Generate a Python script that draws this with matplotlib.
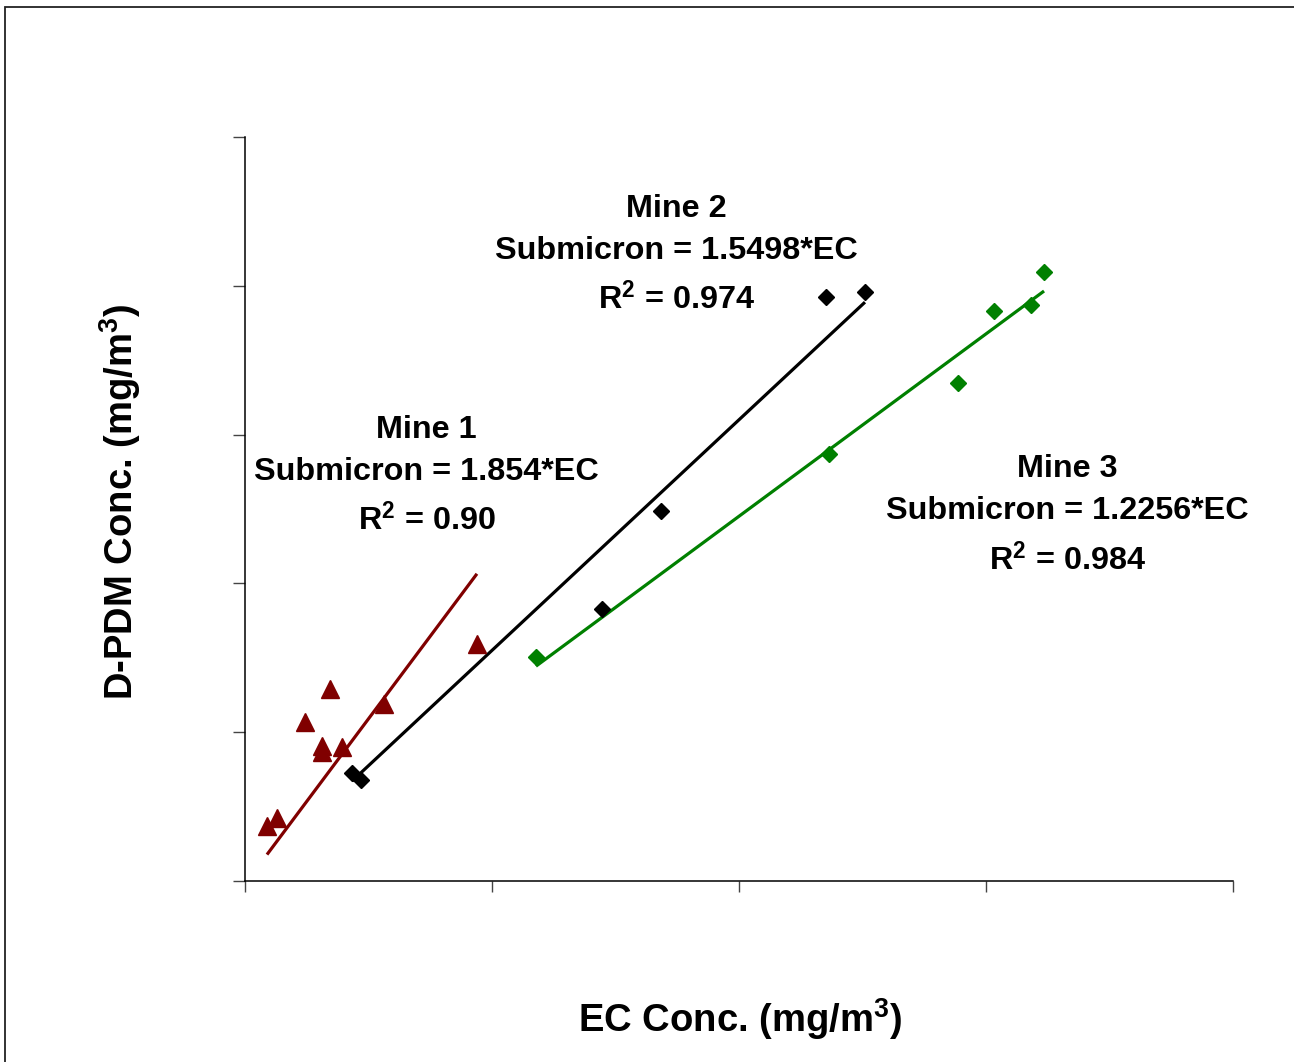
import matplotlib
matplotlib.use("Agg")
import matplotlib.pyplot as plt
import numpy as np
from matplotlib.patches import Rectangle

plt.rcParams['font.family'] = ['Liberation Sans', 'DejaVu Sans']
plt.rcParams['font.weight'] = 'bold'
plt.rcParams['mathtext.fontset'] = 'custom'
plt.rcParams['mathtext.rm'] = 'Liberation Sans:bold'
plt.rcParams['mathtext.bf'] = 'Liberation Sans:bold'
plt.rcParams['mathtext.it'] = 'Liberation Sans:bold'

# ---- data (EC vs D-PDM concentration, mg/m3) ----
mine1_ec = [0.0089, 0.0130, 0.0243, 0.0344, 0.0312, 0.0312, 0.0393, 0.0563, 0.0939]
mine1_pdm = [0.0370, 0.0423, 0.1069, 0.1290, 0.0907, 0.0867, 0.0901, 0.1190, 0.1593]
mine2_ec = [0.0433, 0.0470, 0.1445, 0.1684, 0.2352, 0.2510]
mine2_pdm = [0.0726, 0.0679, 0.1828, 0.2487, 0.3925, 0.3958]
mine3_ec = [0.1178, 0.2364, 0.2887, 0.3032, 0.3182, 0.3235]
mine3_pdm = [0.1505, 0.2870, 0.3347, 0.3831, 0.3871, 0.4093]

# trend line coefficients (slope, intercept) as drawn
fit_slope = [2.22, 1.5498, 1.2256]
fit_intercept = [-0.002, 0.0, 0.0]

mine_names = ["Mine 1", "Mine 2", "Mine 3"]
eq_labels = ["Submicron = 1.854*EC", "Submicron = 1.5498*EC", "Submicron = 1.2256*EC"]
r2_labels = ["0.90", "0.974", "0.984"]

x_ticks = [0.0, 0.1, 0.2, 0.3, 0.4]
y_ticks = [0.0, 0.1, 0.2, 0.3, 0.4, 0.5]

W, H = 1294, 1062
fig = plt.figure(figsize=(W / 100, H / 100), dpi=100)
fig.patch.set_facecolor('white')

# outer frame (chart area border)
fig.patches.append(Rectangle((5 / W, -0.1), 1.2, 1.1 - 7 / H, transform=fig.transFigure,
                             fill=False, edgecolor='#222222', linewidth=1.3))

ax = fig.add_axes([245 / W, 1 - 881 / H, (1233 - 245) / W, (881 - 137) / H])
ax.set_xlim(0, 0.4)
ax.set_ylim(0, 0.5)
ax.set_xticks(x_ticks)
ax.set_yticks(y_ticks)
ax.set_xticklabels([])
ax.set_yticklabels([])
for s in ['top', 'right']:
    ax.spines[s].set_visible(False)
for s in ['left', 'bottom']:
    ax.spines[s].set_linewidth(1.1)
ax.tick_params(axis='x', direction='out', length=8, width=1, color='#444444')
ax.tick_params(axis='y', direction='out', length=9, width=1, color='#444444')

series = [
    (mine1_ec, mine1_pdm, '#800000', '^', 12.5),
    (mine2_ec, mine2_pdm, '#000000', 'D', 8),
    (mine3_ec, mine3_pdm, '#008000', 'D', 8),
]
for i, (xs, ys, col, mk, ms) in enumerate(series):
    xs = np.array(xs)
    xl = np.array([xs.min(), xs.max()])
    ax.plot(xl, fit_slope[i] * xl + fit_intercept[i], color=col, lw=2.3, zorder=2,
            solid_capstyle='butt')
    ax.plot(xs, ys, linestyle='none', marker=mk, ms=ms, color=col, mec=col, zorder=3)

# annotations
text_pos = [(426.5, [438, 480, 530]), (676.5, [217, 259, 309]), (1067.5, [477, 519, 570])]
fs = 23.3
sup = r'$^{\scriptstyle 2}$'
for i, (cx, bls) in enumerate(text_pos):
    fig.text(cx / W, 1 - bls[0] / H, mine_names[i], ha='center', va='baseline', fontsize=fs,
             fontweight='bold')
    fig.text(cx / W, 1 - bls[1] / H, eq_labels[i], ha='center', va='baseline', fontsize=fs,
             fontweight='bold')
    fig.text(cx / W, 1 - bls[2] / H, r'R$^{2}$ = ' + r2_labels[i], ha='center', va='baseline',
             fontsize=fs, fontweight='bold')

fig.text(740 / W, 1 - 1032 / H, r'EC Conc. (mg/m$^{3}$)', ha='center', va='baseline',
         fontsize=27.5, fontweight='bold')
fig.text(120 / W, 1 - 502 / H, r'D-PDM Conc. (mg/m$^{3}$)', ha='center', va='center',
         rotation=90, fontsize=27.5, fontweight='bold')

fig.savefig('out.png', dpi=100, facecolor='white')
